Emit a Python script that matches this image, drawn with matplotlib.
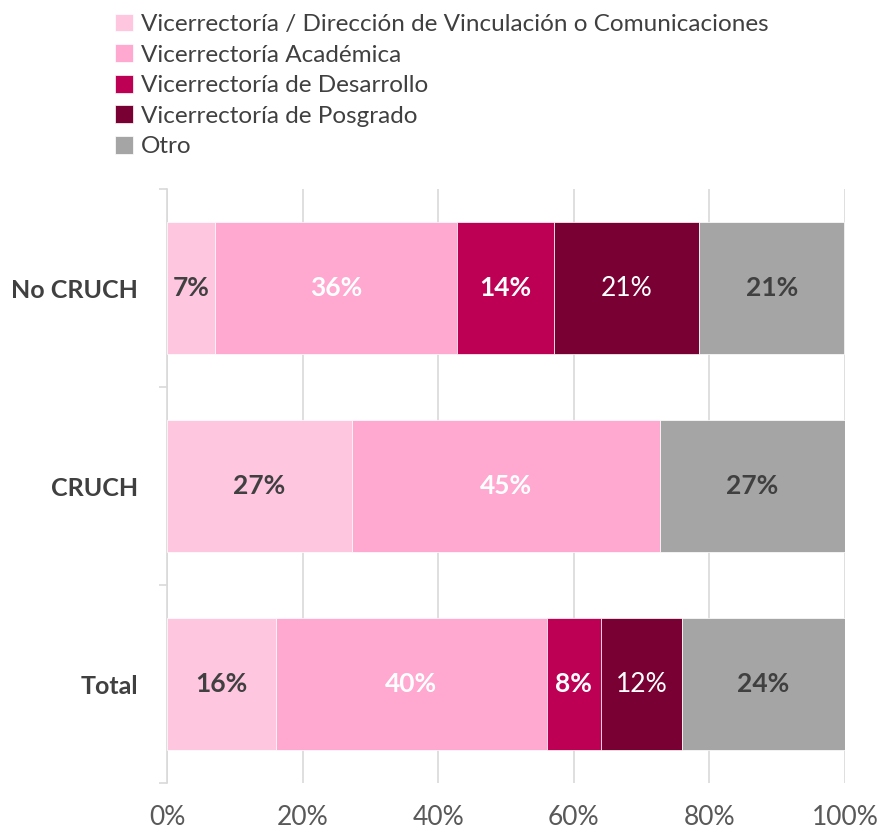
import numpy as np
import matplotlib.pyplot as plt
from matplotlib.ticker import FixedLocator

plt.rcParams['font.family'] = ['Lato', 'DejaVu Sans']

# Categories (top to bottom as shown)
groups = ['No CRUCH', 'CRUCH', 'Total']
series = ['Vicerrectoría / Dirección de Vinculación o Comunicaciones',
          'Vicerrectoría Académica',
          'Vicerrectoría de Desarrollo',
          'Vicerrectoría de Posgrado',
          'Otro']

# Shares in % per group (order of groups above)
vinculacion = [7.1, 27.3, 16.0]
academica = [35.7, 45.4, 40.0]
desarrollo = [14.3, 0.0, 8.0]
posgrado = [21.4, 0.0, 12.0]
otro = [21.4, 27.3, 24.0]

colors = ['#FFC6E0', '#FFA8D0', '#BE0055', '#780032', '#A5A5A5']
label_colors = ['#404040', 'white', 'white', 'white', '#404040']
label_bold = [True, True, True, False, True]

data = [vinculacion, academica, desarrollo, posgrado, otro]

fig = plt.figure(figsize=(8.81, 8.32), dpi=100)
ax = fig.add_axes([0.1896, 0.0589, 0.7695, 0.7139])

y = np.arange(len(groups))
left = np.zeros(len(groups))
handles = []
for i, vals in enumerate(data):
    vals = np.array(vals)
    bars = ax.barh(y, vals, left=left, height=0.667, color=colors[i],
                   edgecolor='white', linewidth=0.5, label=series[i], zorder=3)
    handles.append(bars)
    for j, v in enumerate(vals):
        if v > 0:
            ax.text(left[j] + v / 2, y[j], f'{v:.0f}%', ha='center', va='center',
                    fontsize=19, color=label_colors[i],
                    fontweight='bold' if label_bold[i] else 'normal', zorder=4)
    left = left + vals

ax.set_xlim(0, 100)
ax.set_ylim(2.5, -0.5)
ax.set_xticks(np.arange(0, 101, 20))
ax.set_xticklabels([f'{t}%' for t in range(0, 101, 20)])
ax.tick_params(axis='x', length=0, pad=16, labelsize=19, labelcolor='#595959')
ax.grid(axis='x', color='#D9D9D9', linewidth=1.2, zorder=0)

ax.set_yticks(y)
ax.set_yticklabels(groups, fontweight='bold')
ax.tick_params(axis='y', which='major', length=0, pad=21, labelsize=18, labelcolor='#404040')
ax.yaxis.set_minor_locator(FixedLocator([-0.5, 0.5, 1.5, 2.5]))
ax.tick_params(axis='y', which='minor', length=6, width=1.2, color='#D9D9D9')

for s in ['top', 'right', 'bottom']:
    ax.spines[s].set_visible(False)
ax.spines['left'].set_color('#D9D9D9')
ax.spines['left'].set_linewidth(1.2)

fig.legend(handles=handles, loc='upper left', bbox_to_anchor=(0.106, 1.01),
           frameon=False, fontsize=17.5, labelcolor='#404040',
           handlelength=0.75, handleheight=0.75, handletextpad=0.3, labelspacing=0.38)

fig.savefig('out.png', dpi=100)
